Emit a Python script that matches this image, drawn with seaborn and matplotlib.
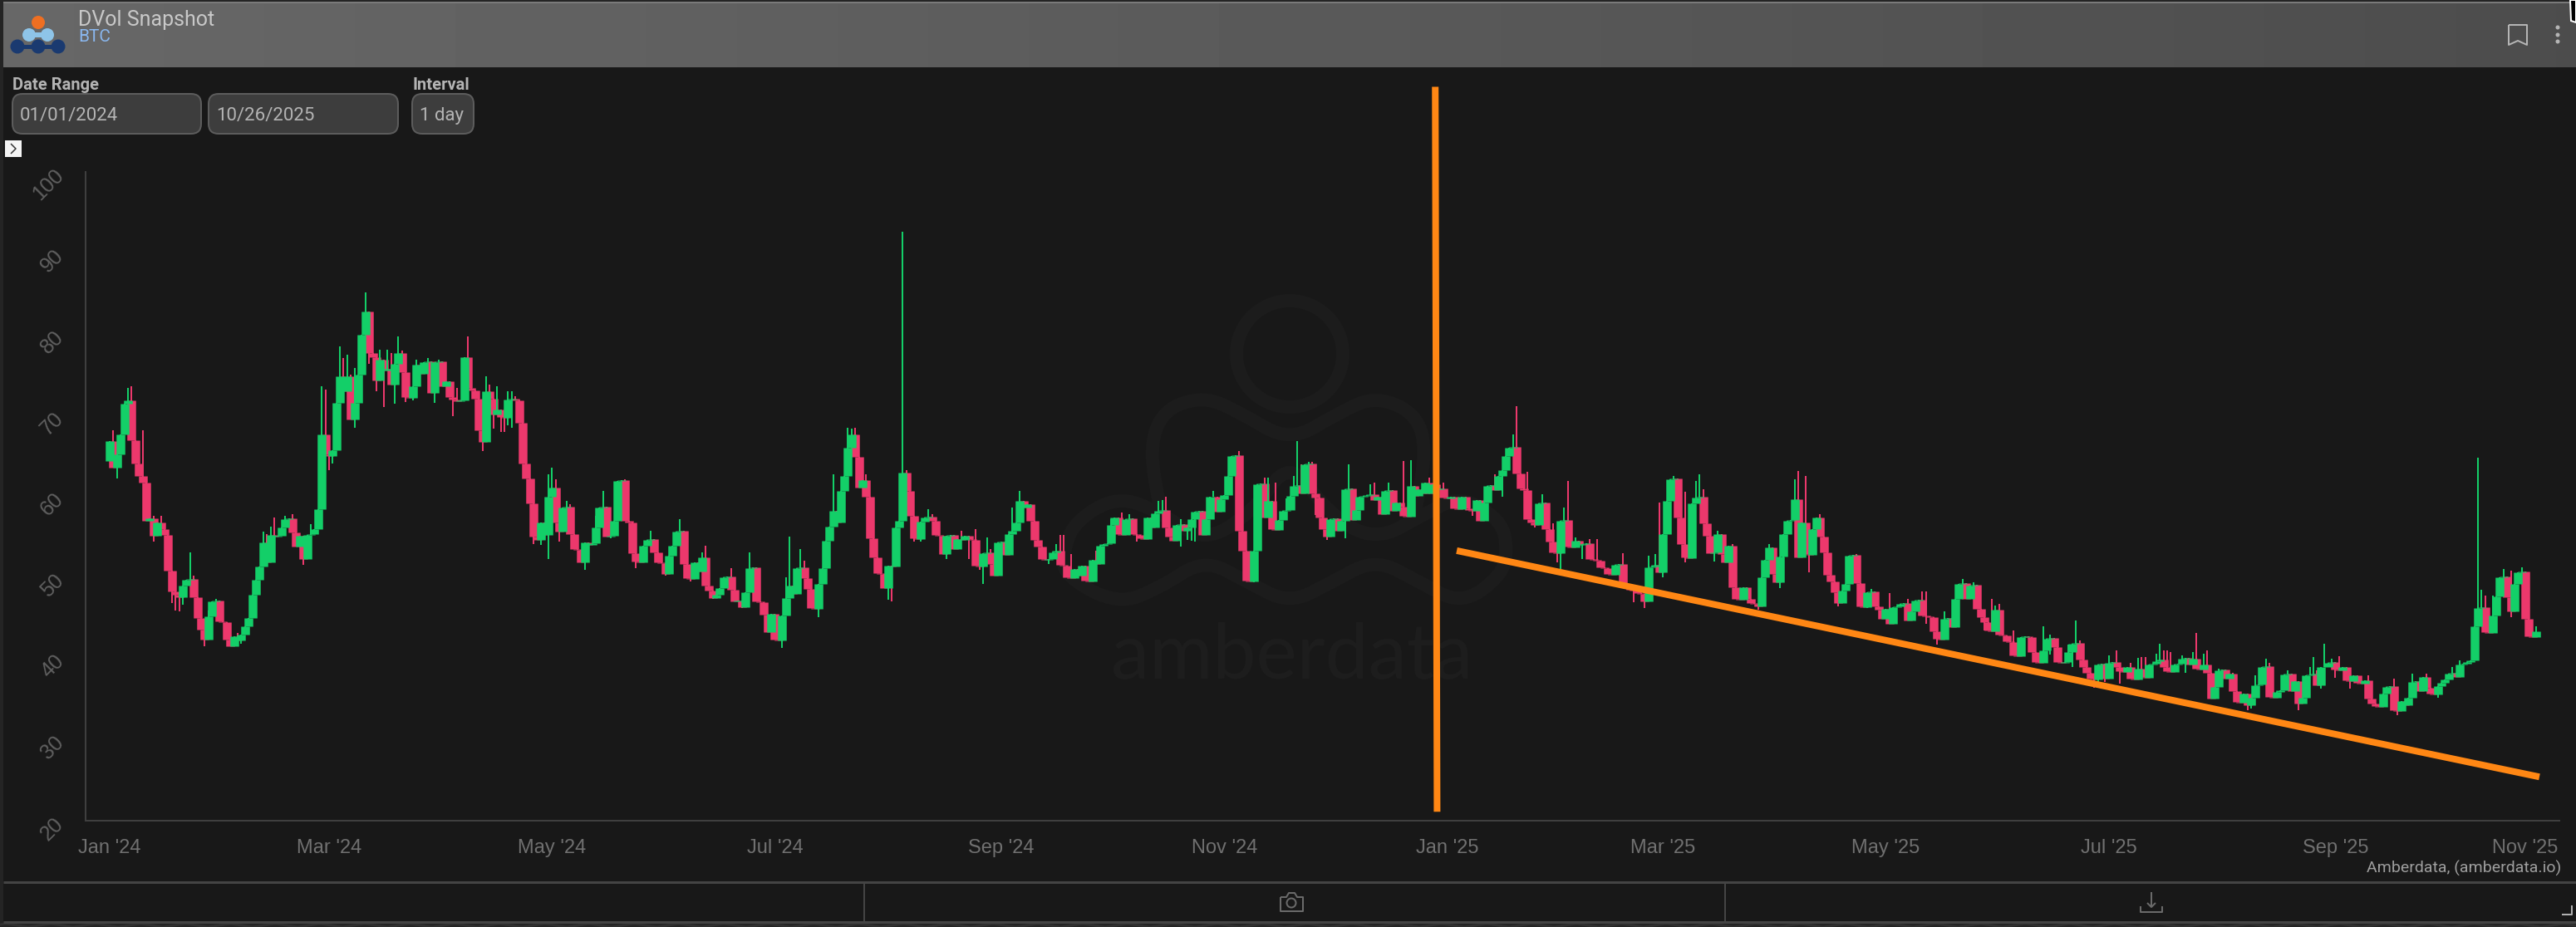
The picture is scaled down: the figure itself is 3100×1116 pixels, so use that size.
import matplotlib
matplotlib.use("Agg")
import matplotlib.pyplot as plt
import matplotlib.dates as mdates
from matplotlib.patches import Circle, FancyBboxPatch, PathPatch, Polygon, Rectangle
from matplotlib.path import Path
import numpy as np
import pandas as pd
import seaborn as sns

first_day = "2024-01-01"
first_open = 64.4

# daily DVol closes, one row per ten days
closes = [
    66.8, 63.5, 65.2, 67.6, 71.4, 71.8, 66.9, 64.0, 62.5, 61.7,
    57.0, 57.3, 55.1, 56.8, 56.0, 55.2, 50.8, 48.3, 47.9, 47.6,
    49.0, 49.7, 49.8, 47.6, 45.0, 43.6, 42.3, 45.2, 47.0, 47.1,
    44.6, 44.5, 42.3, 41.5, 42.7, 42.2, 42.9, 44.0, 45.0, 47.9,
    49.7, 51.3, 54.3, 51.9, 55.2, 55.0, 55.1, 56.2, 57.2, 57.3,
    55.5, 53.8, 55.1, 52.3, 55.2, 55.3, 56.0, 58.4, 67.6, 65.2,
    65.0, 65.7, 71.5, 74.8, 73.0, 74.8, 69.5, 71.5, 75.0, 79.9,
    82.8, 77.7, 77.2, 74.3, 76.8, 75.5, 75.7, 73.8, 76.3, 77.7,
    75.3, 72.2, 72.1, 73.6, 76.2, 75.1, 76.5, 76.6, 72.8, 76.5,
    76.6, 73.6, 74.2, 72.2, 71.9, 71.7, 71.8, 77.2, 73.4, 73.1,
    72.0, 68.1, 66.7, 73.0, 72.0, 70.1, 70.7, 69.8, 69.7, 71.9,
    72.0, 71.8, 69.1, 64.0, 62.2, 59.1, 55.0, 54.6, 56.8, 55.2,
    59.9, 61.1, 56.8, 55.6, 58.6, 58.7, 55.3, 53.5, 53.4, 51.9,
    54.3, 54.0, 54.2, 56.2, 58.6, 58.7, 55.0, 55.1, 57.0, 61.9,
    62.0, 57.0, 56.8, 53.0, 52.0, 51.9, 53.9, 54.6, 54.7, 53.1,
    51.9, 51.8, 50.4, 52.7, 53.9, 55.6, 55.7, 51.7, 49.9, 49.8,
    51.9, 50.7, 52.5, 49.0, 48.4, 47.5, 47.9, 48.7, 50.0, 50.1,
    48.5, 47.0, 47.1, 46.3, 48.2, 51.1, 51.2, 47.0, 46.9, 45.4,
    43.3, 45.5, 42.3, 42.2, 45.3, 47.5, 49.0, 48.0, 51.1, 51.2,
    49.9, 48.6, 46.2, 46.1, 49.2, 51.1, 54.5, 56.3, 58.2, 56.8,
    60.7, 62.5, 66.0, 67.6, 64.9, 61.1, 62.0, 60.0, 54.8, 52.5,
    50.5, 50.4, 48.7, 51.4, 51.3, 56.2, 57.0, 62.9, 60.7, 57.6,
    54.8, 54.7, 56.9, 57.4, 57.5, 57.0, 55.2, 55.1, 52.9, 55.1,
    55.2, 53.5, 54.7, 54.6, 55.1, 54.7, 54.6, 51.4, 51.3, 53.0,
    53.1, 51.7, 50.2, 54.3, 54.4, 52.8, 55.3, 55.7, 56.8, 59.4,
    58.6, 59.0, 57.0, 54.6, 53.8, 52.3, 52.2, 52.3, 53.1, 53.3,
    51.5, 51.4, 50.0, 49.9, 51.0, 50.2, 51.4, 49.6, 49.5, 52.2,
    51.7, 53.9, 54.1, 54.2, 56.5, 57.4, 55.3, 55.2, 57.2, 57.3,
    55.3, 55.2, 54.8, 54.7, 57.4, 56.2, 57.9, 58.2, 58.3, 56.2,
    55.0, 54.5, 56.5, 56.6, 55.8, 56.2, 57.2, 58.1, 58.2, 55.2,
    57.2, 59.9, 60.0, 58.1, 59.6, 60.2, 62.5, 65.0, 65.1, 55.8,
    53.3, 49.6, 49.5, 53.3, 61.5, 61.6, 57.4, 59.4, 56.0, 55.9,
    57.1, 58.2, 58.3, 60.1, 61.3, 61.4, 60.4, 63.9, 64.0, 60.4,
    59.8, 57.4, 56.0, 55.0, 57.2, 57.3, 55.7, 57.0, 60.9, 61.0,
    57.1, 58.3, 60.0, 60.1, 60.2, 60.3, 59.5, 59.9, 57.8, 60.7,
    60.8, 58.2, 59.2, 58.7, 57.6, 57.5, 61.3, 60.1, 60.9, 60.4,
    61.7, 60.4, 61.5, 60.9, 61.0, 59.8, 59.7, 60.0, 58.5, 58.4,
    60.0, 58.5, 58.3, 58.2, 59.5, 57.0, 59.2, 61.3, 61.4, 60.8,
    62.5, 63.2, 65.0, 66.0, 66.1, 62.8, 61.0, 60.8, 57.2, 56.8,
    56.5, 59.1, 59.2, 56.0, 54.4, 53.1, 53.0, 57.0, 57.1, 53.8,
    53.7, 54.5, 54.0, 54.1, 54.2, 52.3, 52.2, 52.1, 51.2, 51.1,
    50.4, 50.3, 51.6, 51.7, 49.2, 49.1, 48.5, 48.4, 48.1, 48.0,
    47.0, 51.2, 51.3, 51.6, 50.6, 55.3, 59.4, 62.1, 62.2, 57.4,
    54.1, 52.5, 52.4, 59.1, 59.8, 59.9, 56.7, 55.1, 53.0, 53.1,
    55.3, 52.9, 51.9, 53.9, 48.8, 47.3, 47.2, 48.8, 47.3, 46.8,
    46.7, 46.4, 50.0, 52.2, 53.7, 50.4, 49.4, 52.6, 55.3, 57.0,
    57.1, 59.6, 52.5, 56.8, 52.9, 52.8, 56.0, 57.4, 55.0, 53.1,
    50.3, 49.5, 48.2, 46.8, 48.4, 49.2, 52.7, 52.8, 49.3, 46.4,
    46.3, 48.2, 48.3, 46.4, 46.0, 44.9, 46.1, 44.3, 46.3, 46.4,
    46.7, 46.8, 44.7, 45.8, 47.1, 47.2, 45.3, 45.2, 45.1, 43.4,
    42.4, 42.3, 44.9, 45.0, 43.9, 47.3, 49.2, 49.3, 47.4, 49.0,
    49.1, 46.1, 45.1, 44.5, 43.5, 43.4, 46.0, 42.9, 42.8, 42.1,
    42.0, 40.4, 40.3, 42.6, 42.7, 42.6, 40.8, 39.6, 39.5, 41.0,
    42.4, 42.5, 41.4, 39.6, 39.5, 39.6, 40.8, 41.8, 41.9, 39.9,
    39.0, 38.2, 37.5, 37.4, 39.3, 39.4, 37.5, 39.5, 39.6, 38.9,
    38.4, 38.3, 38.9, 37.5, 37.4, 38.7, 37.7, 37.6, 39.3, 39.4,
    39.7, 39.9, 38.9, 38.4, 38.3, 39.3, 39.4, 40.0, 40.1, 39.3,
    40.0, 38.7, 38.6, 39.3, 38.2, 35.1, 36.5, 38.5, 38.6, 37.5,
    38.1, 36.0, 34.6, 34.5, 35.7, 34.2, 35.2, 36.7, 36.8, 39.0,
    39.1, 35.3, 35.2, 35.9, 36.1, 38.0, 38.1, 36.0, 37.2, 34.4,
    35.2, 37.9, 38.0, 38.1, 36.7, 38.9, 39.0, 39.5, 39.6, 38.6,
    38.5, 38.9, 37.3, 37.2, 37.9, 37.0, 36.9, 37.3, 35.1, 34.4,
    34.1, 34.0, 35.7, 36.5, 36.6, 33.6, 33.5, 34.8, 34.2, 35.2,
    37.1, 37.2, 36.0, 37.7, 36.4, 35.7, 35.6, 36.6, 37.0, 37.4,
    38.1, 38.2, 37.7, 39.3, 39.4, 39.6, 39.8, 44.0, 46.2, 46.3,
    43.3, 43.2, 45.3, 47.7, 50.0, 50.1, 47.6, 45.8, 49.2, 50.6,
    50.7, 44.9, 42.7, 42.6, 43.4,
]

# upper wicks that stand clear of the bodies (day number, value)
high_days = [
    1, 5, 6, 9, 12, 14, 22, 23, 27, 29, 35, 42, 43, 44, 45, 48, 50, 55, 58, 59, 63, 64, 65, 66, 67,
    70, 74, 75, 76, 77, 79, 80, 84, 87, 90, 95, 98, 103, 104, 106, 109, 110, 111, 120, 121, 122,
    125, 126, 133, 135, 141, 148, 156, 162, 163, 170, 175, 185, 186, 189, 190, 198, 202, 203, 204,
    207, 209, 217, 218, 224, 225, 233, 237, 240, 241, 247, 249, 259, 260, 261, 263, 270, 274, 277,
    279, 287, 288, 289, 293, 302, 309, 316, 317, 319, 322, 324, 325, 326, 328, 329, 339, 345, 346,
    350, 354, 356, 361, 365, 379, 384, 385, 388, 392, 395, 398, 399, 401, 405, 407, 414, 421, 423,
    424, 428, 431, 434, 435, 436, 440, 444, 454, 461, 462, 464, 468, 478, 482, 487, 492, 496, 497,
    502, 507, 510, 515, 516, 517, 521, 529, 531, 536, 538, 539, 547, 549, 553, 555, 556, 557, 560,
    561, 562, 563, 564, 567, 570, 571, 573, 574, 577, 581, 587, 590, 591, 596, 602, 603, 604, 606,
    608, 610, 618, 625, 630, 634, 641, 643, 648, 649, 650, 652, 655, 657, 660, 664,
]
high_vals = [
    68.1, 73.4, 73.6, 68.1, 57.6, 57.6, 53.1, 50.2, 45.9, 47.4, 43.2, 55.6, 55.3, 56.3, 57.4, 57.6, 57.8, 56.6, 73.6, 73.2, 78.5, 77.1, 77.5, 75.0, 75.8,
    85.1, 78.1, 76.8, 78.1, 77.7, 79.7, 78.0, 76.8, 77.1, 76.8, 73.4, 79.7, 74.8, 73.8, 73.6, 73.0, 73.0, 72.3, 62.7, 63.5, 62.1,
    59.4, 59.0, 57.6, 60.7, 62.1, 55.7, 57.2, 53.1, 53.9, 51.1, 53.1, 50.0, 55.0, 53.5, 52.1, 62.7, 68.5, 68.3, 68.5,
    62.7, 56.3, 92.6, 63.2, 58.4, 57.8, 55.7, 56.0, 54.9, 53.5, 58.6, 60.7, 54.1, 55.2, 55.2, 52.9, 53.3, 57.2, 58.0,
    57.8, 59.4, 59.5, 60.0, 57.2, 60.7, 65.6, 62.3, 62.3, 61.7, 59.7, 62.5, 66.8, 63.9, 64.3, 64.3, 63.9, 61.5, 61.7,
    61.7, 64.4, 64.5, 62.3, 61.7, 62.7, 67.6, 71.1, 63.0, 60.3, 56.7, 58.6, 61.9, 54.9, 54.7, 54.7, 53.0, 52.7, 52.9,
    59.2, 62.5, 60.6, 61.9, 62.7, 60.9, 55.7, 54.1, 54.1, 62.1, 63.1, 62.5, 57.8, 52.9, 48.6, 48.1, 47.3, 48.3, 48.3,
    45.8, 49.8, 49.4, 47.4, 46.5, 46.7, 43.5, 44.0, 42.9, 41.7, 44.7, 42.2, 40.4, 41.0, 39.5, 40.1, 40.2, 40.2, 40.6,
    41.8, 41.0, 41.0, 40.8, 40.4, 40.8, 43.1, 40.6, 41.0, 38.7, 38.2, 37.9, 40.0, 39.5, 38.5, 38.9, 40.2, 38.5, 41.8,
    40.0, 40.3, 37.9, 37.5, 38.1, 38.1, 38.9, 39.8, 64.8, 48.5, 47.8, 47.8, 51.0, 50.8, 51.2, 44.0,
]

# lower wicks that stand clear of the bodies
low_days = [
    2, 12, 17, 18, 19, 20, 26, 36, 53, 60, 61, 67, 71, 73, 75, 78, 81, 83, 89, 94, 102, 105, 107, 108,
    109, 110, 116, 118, 120, 123, 130, 137, 144, 152, 159, 165, 173, 184, 194, 213, 214, 220, 222,
    229, 235, 238, 239, 257, 281, 293, 295, 296, 297, 313, 330, 333, 338, 373, 381, 390, 396, 397,
    403, 417, 420, 425, 431, 439, 451, 457, 458, 465, 473, 481, 497, 500, 513, 531, 537, 543, 544,
    546, 550, 568, 585, 586, 599, 605, 609, 613, 626, 637, 657,
]
low_vals = [
    62.2, 54.4, 46.8, 45.9, 45.8, 46.6, 41.5, 41.8, 51.5, 63.2, 64.0, 68.5, 76.3, 73.0, 71.0, 71.4, 71.6, 71.8, 71.5, 69.9, 65.6, 68.3, 67.9, 67.9,
    68.8, 68.5, 54.1, 54.0, 52.3, 54.4, 50.9, 54.8, 51.1, 50.2, 49.5, 47.4, 46.2, 41.3, 45.1, 47.2, 47.0, 54.4, 54.4,
    52.3, 52.3, 50.9, 49.2, 51.7, 54.4, 53.8, 54.6, 54.5, 54.4, 49.4, 57.7, 54.6, 54.8, 57.6, 60.0, 56.2, 51.9, 51.0,
    52.3, 46.9, 46.2, 50.0, 51.9, 52.0, 46.0, 48.7, 51.2, 50.6, 46.4, 46.2, 44.3, 41.7, 43.5, 40.5, 39.0, 36.4, 36.5,
    37.1, 36.9, 38.2, 33.6, 33.8, 33.6, 36.3, 37.6, 36.3, 33.0, 35.2, 45.1,
]

tick_dates = ["2024-01-01", "2024-03-01", "2024-05-01", "2024-07-01", "2024-09-01", "2024-11-01",
              "2025-01-01", "2025-03-01", "2025-05-01", "2025-07-01", "2025-09-01", "2025-11-01"]
y_ticks = [20, 30, 40, 50, 60, 70, 80, 90, 100]

# hand drawn orange annotations
split_dates = ["2024-12-28 17:00", "2024-12-29 05:00"]
split_vals = [110.5, 21.1]
trend_dates = ["2025-01-03 14:00", "2025-10-26 20:00"]
trend_vals = [53.3, 25.4]

BG = "#181818"
GREEN = "#13cf68"
RED = "#ec386c"
ORANGE = "#ff8714"
FAINT = "#1c1c1c"
W, H = 3100, 1116

sns.set_theme(style="dark", rc={"lines.solid_capstyle": "butt"})
plt.rcParams["font.family"] = ["Liberation Sans", "DejaVu Sans"]


def px(n):
    # pixels to points at dpi 100
    return n * 0.72


def candle_frames():
    close = np.array(closes)
    opens = np.r_[first_open, close[:-1]]
    high = np.maximum(opens, close)
    low = np.minimum(opens, close)
    high[high_days] = np.maximum(high[high_days], high_vals)
    low[low_days] = np.minimum(low[low_days], low_vals)
    dates = pd.date_range(first_day, periods=len(close), freq="D")
    up = close >= opens
    rows_b, rows_w = [], []
    for i, d in enumerate(dates):
        rows_b += [(i, d, opens[i], up[i]), (i, d, close[i], up[i])]
        rows_w += [(i, d, low[i], up[i]), (i, d, high[i], up[i])]
    cols = ["day", "date", "value", "up"]
    return pd.DataFrame(rows_b, columns=cols), pd.DataFrame(rows_w, columns=cols)


def smooth_path(points, closed=False):
    # quadratic segments through the midpoints, good enough for the watermark
    p = np.array(points, dtype=float)
    if closed:
        mids = (p + np.roll(p, -1, axis=0)) / 2
        verts = [mids[-1]]
        codes = [Path.MOVETO]
        for k in range(len(p)):
            verts += [p[k], mids[k]]
            codes += [Path.CURVE3, Path.CURVE3]
    else:
        mids = (p[:-1] + p[1:]) / 2
        verts = [p[0], mids[0]]
        codes = [Path.MOVETO, Path.LINETO]
        for k in range(1, len(p) - 1):
            verts += [p[k], mids[k]]
            codes += [Path.CURVE3, Path.CURVE3]
        verts.append(p[-1])
        codes.append(Path.LINETO)
    return Path(verts, codes)


def draw_chrome(ui):
    ui.set_xlim(0, W)
    ui.set_ylim(H, 0)
    ui.axis("off")

    # page behind the panel
    ui.add_patch(Rectangle((0, 0), W, H, fc="#242424", ec="none"))
    ui.add_patch(Rectangle((4, 2), W - 4, 1108, fc=BG, ec="none"))
    for x0 in np.arange(-20, W, 54):
        ui.plot([x0, x0 + 27, x0 + 54], [1116, 1112, 1116], color="#303030", lw=px(3))

    # title bar
    grad = np.linspace(0.405, 0.30, 256).reshape(1, -1)
    ui.imshow(grad, extent=(4, W, 81, 2), cmap="gray", vmin=0, vmax=1, aspect="auto", zorder=1)
    ui.set_xlim(0, W)
    ui.set_ylim(H, 0)
    ui.plot([4, W], [3, 3], color="#7a7a7a", lw=px(2), zorder=2)

    # logo
    ui.plot([21, 70], [56, 56], color="#1a3a70", lw=px(5), zorder=2)
    ui.plot([35, 57], [42, 42], color="#8ec4e8", lw=px(6), zorder=2)
    for cx in (21, 46, 70):
        ui.add_patch(Circle((cx, 56), 8.5, fc="#1a3a70", ec="none", zorder=3))
    for cx in (35, 57):
        ui.add_patch(Circle((cx, 42), 8, fc="#8ec4e8", ec="none", zorder=3))
    ui.add_patch(Circle((46, 27), 8, fc="#ee6f22", ec="none", zorder=3))

    ui.text(94, 24, "DVol Snapshot", color="#c8c8c8", fontsize=18, family="Roboto", va="center", zorder=3)
    ui.text(94, 45, "BTC", color="#8ab8f0", fontsize=15, family="Roboto", va="center", zorder=3)

    # bookmark and menu
    ui.plot([3019, 3019, 3030, 3041, 3041, 3019], [30, 54, 49, 54, 30, 30], color="#b5b5b5", lw=px(2), zorder=3)
    for cy in (33, 42, 50):
        ui.add_patch(Circle((3078, cy), 2.5, fc="#b5b5b5", ec="none", zorder=3))
    ui.add_patch(Polygon([(3093, 0), (3094, 25), (3100, 27), (3100, 0)], fc="#000000", ec="#ffffff", lw=px(2), zorder=6))

    # date inputs
    ui.text(15, 103, "Date Range", color="#b4b4b4", fontsize=14.5, family="Roboto", weight="bold", va="center")
    ui.text(496, 103, "Interval", color="#b4b4b4", fontsize=14.5, family="Roboto", weight="bold", va="center")
    boxes = [(15, 227, "01/01/2024"), (251, 228, "10/26/2025"), (496, 74, "1 day")]
    for x0, bw, label in boxes:
        ui.add_patch(FancyBboxPatch((x0 + 10, 123), bw - 20, 28, boxstyle="round,pad=10,rounding_size=12",
                                    fc="#3d3d3d", ec="#5c5c5c", lw=px(2)))
        ui.text(x0 + 9, 139, label, color="#b4b4b4", fontsize=16, family="Roboto", va="center")
    ui.add_patch(Rectangle((6, 169), 20, 20, fc="#f5f5f5", ec="none"))
    ui.plot([13, 19, 13], [173, 179, 185], color="#333333", lw=px(1.5))

    # watermark
    ui.add_patch(Circle((1552, 426), 64, fc="none", ec=FAINT, lw=px(16)))
    upper = [(1397, 617), (1383, 540), (1400, 493), (1449, 477), (1493, 497), (1552, 532),
             (1611, 497), (1655, 477), (1703, 497), (1717, 540), (1703, 617)]
    lower = [(1280, 693), (1345, 728), (1397, 707), (1449, 673), (1500, 700), (1552, 727), (1604, 700),
             (1655, 673), (1707, 700), (1759, 728), (1807, 693), (1814, 662), (1807, 627), (1759, 597),
             (1717, 617), (1655, 652), (1597, 617), (1552, 553), (1507, 617), (1449, 653), (1397, 617),
             (1345, 597), (1294, 627), (1280, 662)]
    ui.add_patch(PathPatch(smooth_path(upper), fc="none", ec=FAINT, lw=px(16)))
    ui.add_patch(PathPatch(smooth_path(lower, closed=True), fc="none", ec=FAINT, lw=px(16)))
    ui.text(1555, 817, "amberdata", color="#1d1d1d", fontsize=67, family="Lato",
            ha="center", va="baseline")

    # footer
    ui.text(3082, 1045, "Amberdata, (amberdata.io)", color="#9e9e9e", fontsize=14, family="Roboto",
            ha="right", va="center")
    ui.plot([4, W], [1062, 1062], color="#444444", lw=px(3))
    ui.plot([4, W], [1110, 1110], color="#444444", lw=px(3))
    for x0 in (1040, 2076):
        ui.plot([x0, x0], [1062, 1110], color="#444444", lw=px(2))

    # camera
    ui.plot([1541, 1548, 1551, 1558, 1561, 1568, 1568, 1541, 1541],
            [1080, 1080, 1075, 1075, 1080, 1080, 1097, 1097, 1080], color="#6a6a6a", lw=px(2))
    ui.add_patch(Circle((1554, 1087), 5.5, fc="none", ec="#6a6a6a", lw=px(2)))
    # download
    ui.plot([2589, 2589], [1074, 1092], color="#6a6a6a", lw=px(2))
    ui.plot([2584, 2589, 2594], [1087, 1092, 1087], color="#6a6a6a", lw=px(2))
    ui.plot([2576, 2576, 2602, 2602], [1091, 1098, 1098, 1091], color="#6a6a6a", lw=px(2))
    # resize corner
    ui.plot([3083, 3095, 3095], [1101, 1101, 1090], color="#b0b0b0", lw=px(2))


def draw_candles(ax):
    bodies, wicks = candle_frames()
    # red group first, green sits on top where neighbours overlap
    for is_up, colour in ((False, RED), (True, GREEN)):
        sns.lineplot(data=wicks[wicks["up"] == is_up], x="date", y="value", units="day", estimator=None,
                     color=colour, linewidth=px(2), legend=False, ax=ax, solid_capstyle="butt")
        sns.lineplot(data=bodies[bodies["up"] == is_up], x="date", y="value", units="day", estimator=None,
                     color=colour, linewidth=px(10.5), legend=False, ax=ax, solid_capstyle="butt")


def draw_annotations(ax):
    for when, vals in ((split_dates, split_vals), (trend_dates, trend_vals)):
        line = pd.DataFrame({"date": pd.to_datetime(when), "value": vals})
        sns.lineplot(data=line, x="date", y="value", sort=False, color=ORANGE, linewidth=px(8),
                     solid_capstyle="butt", clip_on=False, legend=False, ax=ax, zorder=5)


def format_axes(ax):
    start = pd.Timestamp(first_day)
    ax.set_xlim(start - pd.Timedelta(days=6.6), start + pd.Timedelta(days=670.3))
    ax.set_ylim(20, 100)
    ax.patch.set_alpha(0)
    ax.grid(False)
    ax.set_xlabel("")
    ax.set_ylabel("")
    for side in ("top", "right"):
        ax.spines[side].set_visible(False)
    for side in ("left", "bottom"):
        ax.spines[side].set_color("#3f3f3f")
        ax.spines[side].set_linewidth(px(2))

    ax.set_yticks(y_ticks)
    ax.set_xticks(pd.to_datetime(tick_dates))
    ax.xaxis.set_major_formatter(mdates.DateFormatter("%b '%y"))
    ax.tick_params(axis="y", length=px(19), width=px(2), color="#3f3f3f", labelcolor="#606060",
                   labelsize=18, pad=px(11))
    ax.tick_params(axis="x", length=px(19), width=px(1), color="#3f3f3f", labelcolor="#707070",
                   labelsize=17, pad=px(3))
    for lab in ax.get_yticklabels():
        lab.set_rotation(45)
        lab.set_rotation_mode("anchor")
        lab.set_ha("right")
        lab.set_va("center")
    ax.get_xticklabels()[-1].set_ha("right")
    ax.get_xticklabels()[-1].set_x(ax.get_xticks()[-1])


def main():
    fig = plt.figure(figsize=(W / 100, H / 100), dpi=100, facecolor=BG)
    ui = fig.add_axes([0, 0, 1, 1], zorder=0)
    draw_chrome(ui)

    ax = fig.add_axes([103 / W, 1 - 988 / H, (3080 - 103) / W, (988 - 207) / H], zorder=1)
    draw_candles(ax)
    draw_annotations(ax)
    format_axes(ax)

    fig.savefig("out.png", dpi=100, facecolor=BG)
    print("plotting completed", len(closes))


if __name__ == "__main__":
    main()
